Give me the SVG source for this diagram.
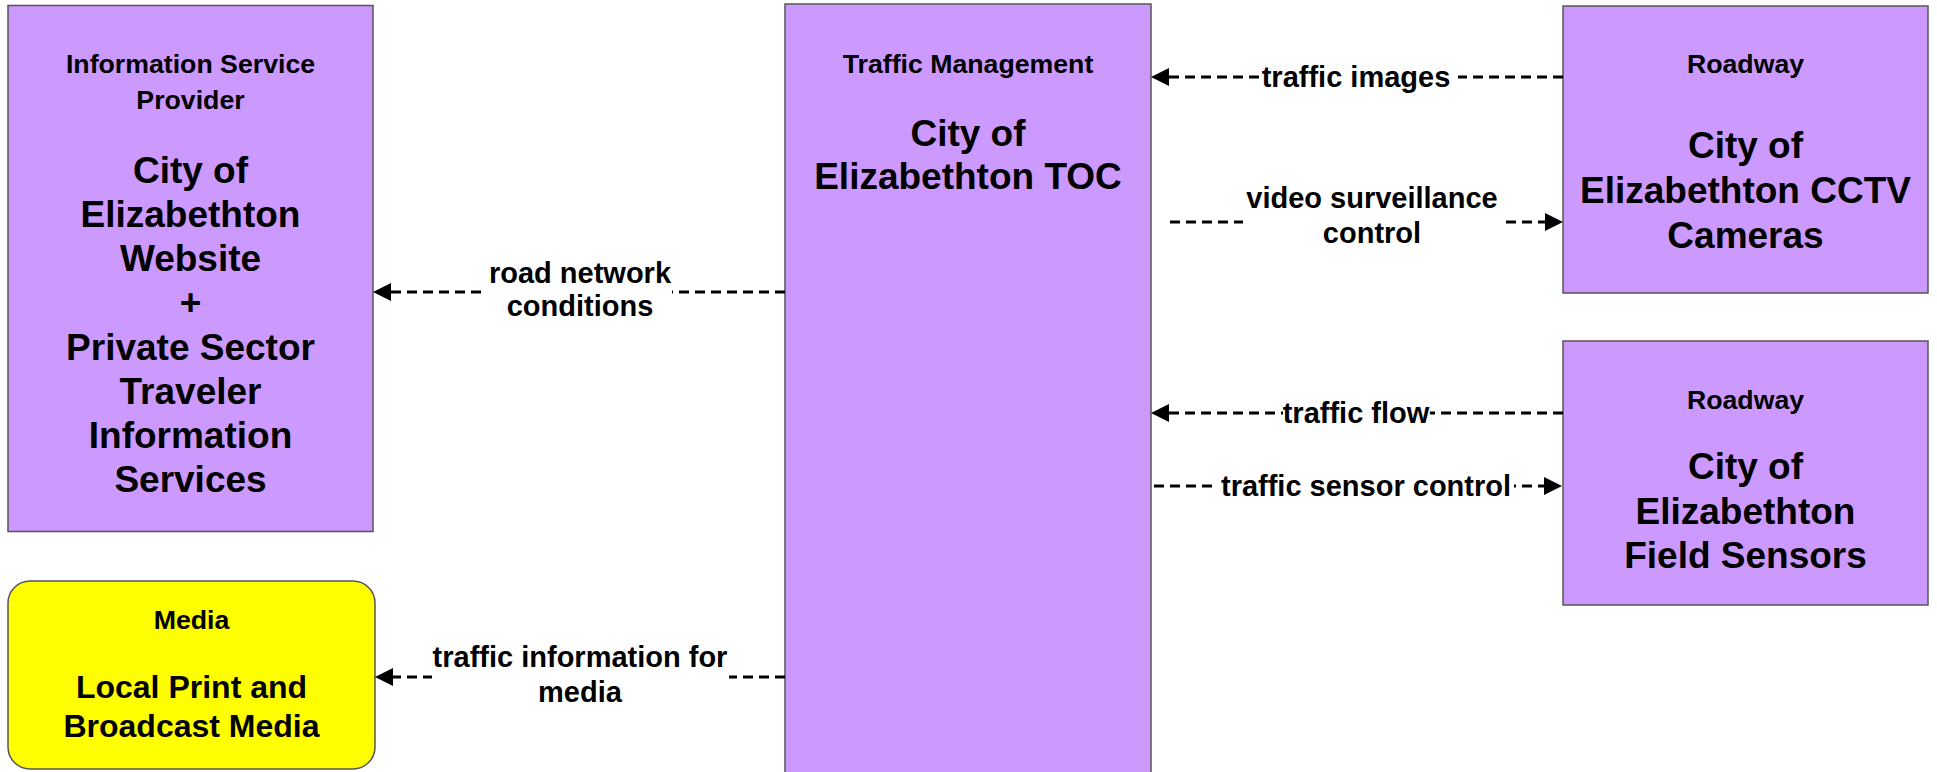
<svg xmlns="http://www.w3.org/2000/svg" width="1937" height="772" viewBox="0 0 1937 772">
<style>
.box{fill:#CC99FF;stroke:#555;stroke-width:1.5}
.media{fill:#FFFF00;stroke:#555;stroke-width:1.5}
text{font-family:"Liberation Sans",Arial,sans-serif;font-weight:bold;fill:#000;text-anchor:middle}
.s{font-size:26.7px}
.b{font-size:37px}
.bm{font-size:32px}
.l{font-size:29px}
.c{stroke:#000;stroke-width:3;stroke-dasharray:10 6;fill:none}
.gap{fill:#fff}
</style>
<defs>
<marker id="ah" markerWidth="18" markerHeight="18" refX="0" refY="9" orient="auto" markerUnits="userSpaceOnUse">
<path d="M0,0 L18,9 L0,18 z" fill="#000"/>
</marker>
</defs>
<rect width="1937" height="772" fill="#fff"/>
<g id="isp">
<rect class="box" x="8" y="5.5" width="365" height="526"/>
<text class="s" x="190.5" y="72.5">Information Service</text>
<text class="s" x="190.5" y="108.5">Provider</text>
<text class="b" x="190.5" y="183">City of</text>
<text class="b" x="190.5" y="227">Elizabethton</text>
<text class="b" x="190.5" y="271">Website</text>
<text class="b" x="190.5" y="315">+</text>
<text class="b" x="190.5" y="360">Private Sector</text>
<text class="b" x="190.5" y="404">Traveler</text>
<text class="b" x="190.5" y="448">Information</text>
<text class="b" x="190.5" y="492">Services</text>
</g>
<g id="media">
<rect class="media" x="8" y="581" width="367" height="188" rx="22" ry="22"/>
<text class="s" x="191.5" y="629">Media</text>
<text class="bm" x="191.5" y="698">Local Print and</text>
<text class="bm" x="191.5" y="737">Broadcast Media</text>
</g>
<g id="toc">
<rect class="box" x="785" y="4" width="366" height="775"/>
<text class="s" x="968" y="73">Traffic Management</text>
<text class="b" x="968" y="146">City of</text>
<text class="b" x="968" y="189">Elizabethton TOC</text>
</g>
<g id="cctv">
<rect class="box" x="1563" y="6" width="365" height="287"/>
<text class="s" x="1745.5" y="73">Roadway</text>
<text class="b" x="1745.5" y="158">City of</text>
<text class="b" x="1745.5" y="203">Elizabethton CCTV</text>
<text class="b" x="1745.5" y="248">Cameras</text>
</g>
<g id="sensors">
<rect class="box" x="1563" y="341" width="365" height="264"/>
<text class="s" x="1745.5" y="409">Roadway</text>
<text class="b" x="1745.5" y="479">City of</text>
<text class="b" x="1745.5" y="524">Elizabethton</text>
<text class="b" x="1745.5" y="568">Field Sensors</text>
</g>
<g id="connectors">
<line class="c" x1="785" y1="292" x2="391" y2="292" marker-end="url(#ah)"/>
<rect class="gap" x="482" y="286" width="190" height="12"/>
<text class="l" x="580" y="283">road network</text>
<text class="l" x="580" y="316">conditions</text>

<line class="c" x1="785" y1="677" x2="393" y2="677" marker-end="url(#ah)"/>
<rect class="gap" x="432" y="671" width="297" height="12"/>
<text class="l" x="580" y="667">traffic information for</text>
<text class="l" x="580" y="702">media</text>

<line class="c" x1="1563" y1="77" x2="1169" y2="77" marker-end="url(#ah)"/>
<rect class="gap" x="1260" y="71" width="198" height="12"/>
<text class="l" x="1356" y="87">traffic images</text>

<line class="c" x1="1170" y1="222" x2="1545" y2="222" marker-end="url(#ah)"/>
<rect class="gap" x="1243" y="216" width="257" height="12"/>
<text class="l" x="1372" y="208">video surveillance</text>
<text class="l" x="1372" y="243">control</text>

<line class="c" x1="1563" y1="413" x2="1169" y2="413" marker-end="url(#ah)"/>
<rect class="gap" x="1283" y="407" width="147" height="12"/>
<text class="l" x="1356" y="423">traffic flow</text>

<line class="c" x1="1154" y1="486" x2="1544" y2="486" marker-end="url(#ah)"/>
<rect class="gap" x="1218" y="480" width="296" height="12"/>
<text class="l" x="1366" y="496">traffic sensor control</text>
</g>
</svg>
